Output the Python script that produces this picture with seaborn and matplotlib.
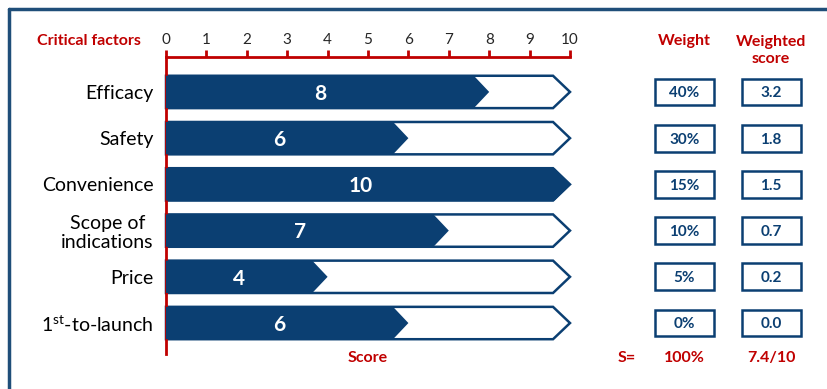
import matplotlib
matplotlib.use("Agg")
import matplotlib.pyplot as plt
from matplotlib.patches import Polygon, Rectangle
from matplotlib.lines import Line2D
import seaborn as sns

# Chart data
factors = ["Efficacy", "Safety", "Convenience", "Scope of\nindications", "Price",
           "1$^{\\mathrm{st}}$-to-launch"]
scores = [8, 6, 10, 7, 4, 6]
weights = ["40%", "30%", "15%", "10%", "5%", "0%"]
weighted_scores = ["3.2", "1.8", "1.5", "0.7", "0.2", "0.0"]
max_score = 10
total_weight = "100%"
total_score = "7.4/10"

navy = "#0B3F72"
red = "#C00000"

sns.set_theme(style="white")
plt.rcParams["font.family"] = ["Lato", "DejaVu Sans"]
plt.rcParams["mathtext.fontset"] = "custom"
plt.rcParams["mathtext.rm"] = "Lato"

fig = plt.figure(figsize=(8.27, 3.89), dpi=100)
ax = fig.add_axes([166 / 827, 35 / 389, 404 / 827, 297 / 389])

sns.barplot(x=scores, y=list(range(len(factors))), orient="h", color=navy,
            width=0.7, ax=ax)


def chevron(x0, x1, yc, h, tip):
    return [(x0, yc - h / 2), (x1 - tip, yc - h / 2), (x1, yc),
            (x1 - tip, yc + h / 2), (x0, yc + h / 2)]


# turn the bars into chevrons, with an outline for the full scale behind
for patch in list(ax.patches):
    x0, y0 = patch.get_x(), patch.get_y()
    w, h = patch.get_width(), patch.get_height()
    yc = y0 + h / 2
    patch.remove()
    ax.add_patch(Polygon(chevron(0, max_score, yc, h, 0.42), closed=True,
                         facecolor="white", edgecolor=navy, lw=1.8,
                         zorder=2, clip_on=False))
    ax.add_patch(Polygon(chevron(x0, x0 + w, yc, h, 0.38), closed=True,
                         facecolor=navy, edgecolor="none", zorder=3,
                         clip_on=False))
    ax.text((w - 0.38) / 2, yc + 0.04, f"{w:g}", color="white", fontsize=15,
            fontweight="bold", ha="center", va="center", zorder=4)

# weight and weighted score boxes
for i, (wt, ws) in enumerate(zip(weights, weighted_scores)):
    for xc, txt in [(12.83, wt), (14.98, ws)]:
        ax.add_patch(Rectangle((xc - 0.73, i - 0.29), 1.46, 0.58,
                               facecolor="white", edgecolor=navy, lw=1.8,
                               clip_on=False))
        ax.text(xc, i + 0.03, txt, color=navy, fontsize=11, fontweight="bold",
                ha="center", va="center")

ax.set_xlim(0, max_score)
ax.set_ylim(5.67, -0.756)
ax.set_yticks(range(len(factors)))
ax.set_yticklabels(factors, fontsize=14, color="black", multialignment="center",
                   linespacing=1.15)
ax.set_xticks(range(0, 11))
ax.xaxis.tick_top()
ax.tick_params(axis="x", which="both", direction="out", length=5, width=2,
               color=red, labelsize=11, pad=2, top=True, bottom=False)
ax.tick_params(axis="y", length=0, pad=9)
ax.set_xlabel("")
ax.set_ylabel("")
for side in ["right", "bottom"]:
    ax.spines[side].set_visible(False)
for side in ["top", "left"]:
    ax.spines[side].set_color(red)
    ax.spines[side].set_linewidth(2)
ax.patch.set_alpha(0)

# headers and footer
hdr = dict(color=red, fontsize=11.5, fontweight="bold", ha="center", va="center")
ax.text(-0.62, -1.1, "Critical factors", **{**hdr, "ha": "right"})
ax.text(12.83, -1.1, "Weight", **hdr)
ax.text(14.98, -0.9, "Weighted\nscore", linespacing=1.25, **hdr)
ax.text(5.0, 5.76, "Score", **hdr)
ax.text(11.41, 5.76, "S=", **hdr)
ax.text(12.83, 5.76, total_weight, **hdr)
ax.text(14.98, 5.76, total_score, **hdr)

# outer frame
fig.add_artist(Line2D([9 / 827, 9 / 827], [0, 1 - 9 / 389], color="#1F4E79",
                      lw=2.5, transform=fig.transFigure))
fig.add_artist(Line2D([9 / 827, 1], [1 - 9 / 389, 1 - 9 / 389],
                      color="#1F4E79", lw=2.5, transform=fig.transFigure))

fig.savefig("out.png", dpi=100)
